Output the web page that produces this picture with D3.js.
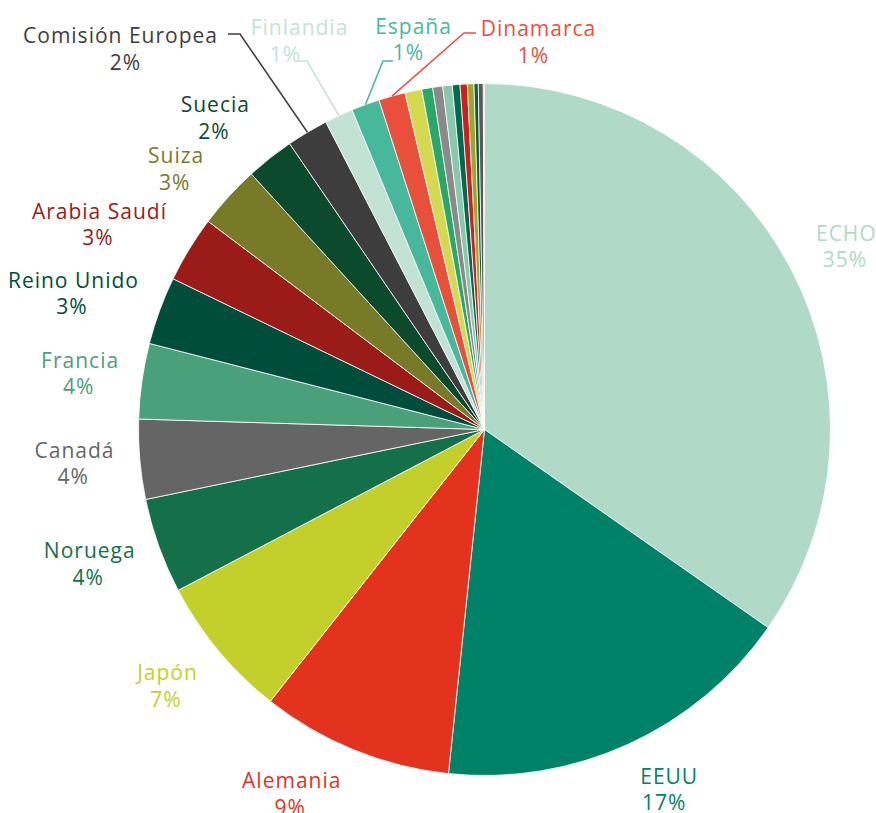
<!DOCTYPE html>
<html><head><meta charset="utf-8">
<script src="https://cdn.jsdelivr.net/npm/d3@7"></script>
<style>body{margin:0;background:#fff;} svg{display:block;} text{font-family:"Open Sans",sans-serif;letter-spacing:1px;}</style>
</head><body><svg id="chart" width="876" height="813"></svg>
<script>
// ---- data ----
const donors = ["ECHO","EEUU","Alemania","Japón","Noruega","Canadá","Francia","Reino Unido","Arabia Saudí","Suiza","Suecia","Comisión Europea","Finlandia","España","Dinamarca",
  "Otro 1","Otro 2","Otro 3","Otro 4","Otro 5","Otro 6","Otro 7","Otro 8","Otro 9","Otro 10"];
const shares = [34.69,16.95,8.96,6.68,4.45,3.72,3.52,3.17,3.10,2.95,2.25,1.94,1.33,1.32,1.24,
  0.786,0.511,0.464,0.444,0.356,0.336,0.308,0.197,0.231,0.056];
const labelled = ["ECHO","EEUU","Alemania","Japón","Noruega","Canadá","Francia","Reino Unido","Arabia Saudí","Suiza","Suecia","Comisión Europea","Finlandia","España","Dinamarca"];
const colors = ["#b1d9c7","#008268","#e3321e","#c3cf2a","#14704a","#656565","#4ba07c","#004d3b","#9a1b17","#777a27","#0c4a2d","#3d3d3d","#c2e2d6","#47b89c","#e9503c",
  "#d4d94f","#2aa86a","#8a8a8a","#88c8ac","#006b4d","#cc2020","#a0a626","#0f5e3e","#555a5a","#c89090"];

// ---- layout ----
const cx = 484.5, cy = 429.5, R = 346, gap = 30;
const fontSize = 21;
const leaderLabels = {
  "Comisión Europea": {center:[120,49], line2dx:6.5, path:[[228,34],[240,34]]},
  "Finlandia": {center:[299,41], line2dx:-9, path:[[297,61],[307,61]]},
  "España": {center:[413,39.5], line2dx:0, path:[[393,61],[383,61]]},
  "Dinamarca": {center:[538,42], line2dx:0, path:[[476,33],[464,33]]}
};
const nudges = {
  "ECHO":[1,1], "EEUU":[16,-1], "Alemania":[-33,-3], "Japón":[-5,3], "Noruega":[2,1],
  "Canadá":[4,0], "Francia":[6,0], "Reino Unido":[3,1], "Arabia Saudí":[-7,2],
  "Suiza":[-10,7], "Suecia":[-15,0]
};

const data = donors.map((d,i)=>({name:d, value:shares[i], color:colors[i]}));
const total = d3.sum(shares);

const svg = d3.select("#chart");
const g = svg.append("g").attr("transform",`translate(${cx},${cy})`);
const pie = d3.pie().value(d=>d.value).sort(null);
const arcs = pie(data);
const arc = d3.arc().innerRadius(0).outerRadius(R);

g.selectAll("path.slice").data(arcs).join("path")
  .attr("class","slice")
  .attr("d",arc)
  .attr("fill",d=>d.data.color)
  .attr("stroke","#fff").attr("stroke-width",0.8).attr("stroke-linejoin","round");

const labels = svg.append("g");
arcs.filter(d=>labelled.includes(d.data.name)).forEach(d=>{
  const a = (d.startAngle+d.endAngle)/2;
  const pct = Math.round(d.data.value/total*100)+"%";
  const t = labels.append("text").attr("fill",d.data.color).attr("font-size",fontSize).attr("text-anchor","middle");
  const l1 = t.append("tspan").text(d.data.name);
  const l2 = t.append("tspan").text(pct);
  const w = Math.max(l1.node().getComputedTextLength(), l2.node().getComputedTextLength());
  let px, py, dx2 = pct.startsWith("1") ? -5 : -1.5;
  if (leaderLabels[d.data.name]) {
    const L = leaderLabels[d.data.name];
    [px,py] = L.center;
    dx2 += L.line2dx;
    const ap = [cx + R*Math.sin(a), cy - R*Math.cos(a)];
    labels.append("polyline")
      .attr("points",[L.path[0],L.path[1],ap].map(p=>p.join(",")).join(" "))
      .attr("fill","none").attr("stroke",d.data.color).attr("stroke-width",1.5);
  } else {
    const ax = cx + (R+gap)*Math.sin(a), ay = cy - (R+gap)*Math.cos(a);
    px = ax + Math.sin(a)*w/2;
    py = ay - Math.cos(a)*21;
    const n = nudges[d.data.name]||[0,0];
    px += n[0]; py += n[1];
  }
  l1.attr("x",px+0.5).attr("y",py-6);
  l2.attr("x",px+0.5+dx2).attr("y",py+20.5);
});
</script></body></html>
